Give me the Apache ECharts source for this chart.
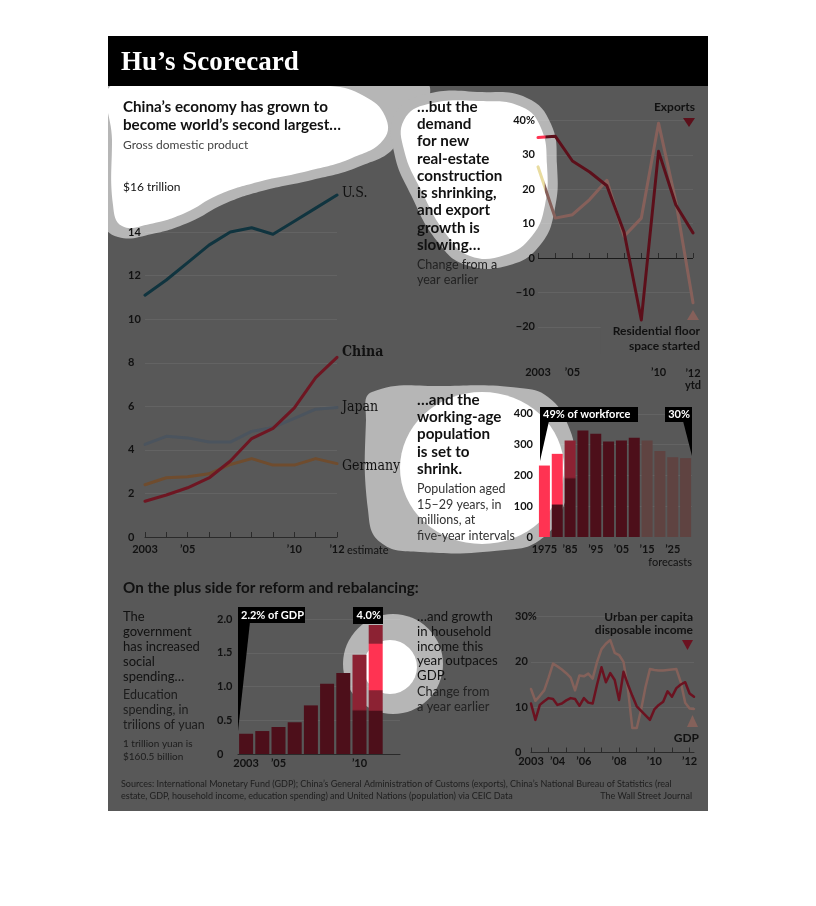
<!DOCTYPE html>
<html><head><meta charset="utf-8">
<script src="https://cdn.jsdelivr.net/npm/echarts@6/dist/echarts.min.js"></script>
<style>html,body{margin:0;padding:0;background:#fff}#c{width:816px;height:906px}</style>
</head><body><div id="c"></div>
<script>
// ---------------- DATA ----------------
const gdpYears = ['2003','2004','2005','2006','2007','2008','2009','2010','2011','2012'];
const gdpTickLabels = ['2003','','\u201905','','','','','\u201910','','\u201912'];
const gdpYLabels = ['0','2','4','6','8','10','12','14',''];
const gdpUS      = [11.1, 11.8, 12.6, 13.4, 14.0, 14.2, 13.9, 14.5, 15.1, 15.7];
const gdpChina   = [1.64, 1.93, 2.26, 2.71, 3.49, 4.52, 4.99, 5.93, 7.32, 8.25];
const gdpJapan   = [4.25, 4.62, 4.55, 4.36, 4.36, 4.85, 5.03, 5.45, 5.87, 5.95];
const gdpGermany = [2.40, 2.72, 2.77, 2.90, 3.33, 3.60, 3.30, 3.30, 3.60, 3.37];

const tradeYears = ['2003','2004','2005','2006','2007','2008','2009','2010','2011','2012'];
const tradeTickLabels = ['2003','','\u201905','','','','','\u201910','','\u201912'];
const tradeYLabels = ['','\u221220','\u221210','0','10','20','30','40%'];
const exportsGrowth     = [35.0, 35.4, 28.2, 25.0, 21.0, 7.5, -18.0, 31.0, 15.5, 7.3];
const residentialGrowth = [26.5, 11.6, 12.6, 17.0, 22.6, 6.3, 11.6, 39.2, 16.5, -13.0];

const popYears = ['1975','1980','1985','1990','1995','2000','2005','2010','2015','2020','2025','2030'];
const popTickLabels = ['1975','','\u201985','','\u201995','','\u201905','','\u201915','','\u201925',''];
const popYLabels = ['0','100','200','300','400'];
const popYouth = [232, 270, 313, 346, 335, 310, 313, 322, 313, 279, 259, 256];
const popFirstForecast = '2015';

const eduYears = ['2003','2004','2005','2006','2007','2008','2009','2010','2011'];
const eduTickLabels = ['2003','','\u201905','','','','','\u201910',''];
const eduYLabels = ['0','0.5','1.0','1.5','2.0'];
const eduSpending = [0.30, 0.34, 0.40, 0.47, 0.72, 1.04, 1.20, 1.47, 1.91];

const incomeYears = ['2003','2004','2005','2006','2007','2008','2009','2010','2011','2012'];
const incomeYearLabels = ['2003','\u201904','','\u201906','','\u201908','','\u201910','','\u201912'];
const incomeYLabels = ['0','10','20','30%'];
const urbanIncome = [10.8, 7.2, 10.5, 11.3, 12.0, 11.8, 10.5, 10.8, 11.5, 12.0, 11.8, 10.3, 12.0, 11.0, 10.8, 15.0, 18.8, 15.5, 17.5, 16.0, 11.6, 17.8, 15.0, 12.5, 10.2, 9.2, 8.2, 7.2, 9.5, 10.5, 11.2, 13.5, 12.3, 14.2, 15.0, 15.5, 13.0, 12.3];
const gdpQuarterly = [14.0, 11.4, 12.5, 13.7, 16.5, 19.6, 19.0, 18.3, 17.5, 16.5, 13.7, 17.0, 16.8, 17.4, 16.3, 20.0, 22.8, 24.0, 24.8, 22.0, 21.5, 20.0, 14.0, 5.4, 5.4, 9.5, 14.5, 18.4, 18.2, 18.1, 18.1, 18.2, 18.3, 18.4, 15.5, 11.0, 9.7, 9.6];
const incomeQuarters = [];
incomeYears.forEach(y => ['Q1','Q2','Q3','Q4'].forEach(q => { if (incomeQuarters.length < urbanIncome.length) incomeQuarters.push(y + ' ' + q); }));

// ---------------- STYLE ----------------
const PANEL = '#585858', LIGHT = '#b6b6b6', GRID = 'rgba(255,255,255,0.07)', INK = '#111';
const FONT = 'Lato';
const BRIGHT = '#ff3352', MID = '#8c2233', DARK = '#4d0f1a', FORE = '#5f4341';
const HEAD = 15.2;

function vgrad(stops){ return {type:'linear',x:0,y:0,x2:0,y2:1,colorStops:stops.map(s=>({offset:s[0],color:s[1]}))}; }
function hgrad(stops){ return {type:'linear',x:0,y:0,x2:1,y2:0,colorStops:stops.map(s=>({offset:s[0],color:s[1]}))}; }

function blob(pts, fill, z){ return {type:'polygon', z:z, silent:true, shape:{points:pts, smooth:0.45}, style:{fill:fill}}; }
function txt(x, y, text, o){
  o = o || {};
  const al = o.align || 'left', va = o.va || 'middle';
  const st = {text:text, fill:o.color||INK, fontFamily:o.family||FONT, fontSize:o.size||12, fontWeight:o.weight||'normal',
    align:al, textAlign:al, verticalAlign:va, textVerticalAlign:va};
  if (o.lh) st.lineHeight = o.lh;
  if (o.bg) { st.backgroundColor = o.bg; st.padding = o.pad; }
  return {type:'text', x:x, y:y, z:61, silent:true, style:st};
}
function tri(points, fill){ return {type:'polygon', z:60, silent:true, shape:{points:points}, style:{fill:fill}}; }
function box(x,y,w,h,fill,z){ return {type:'rect', z:z||60, silent:true, shape:{x:x,y:y,width:w,height:h}, style:{fill:fill||'#000'}}; }

const axisLbl = {fontFamily:FONT, fontWeight:'bold', fontSize:11, color:INK};

const grids = [
  {left:145, top:188.5, width:192, height:348.5},
  {left:538, top:120.4, width:155, height:240.8},
  {left:538, top:413.8, width:154, height:123.2},
  {left:238, top:619, width:162, height:135},
  {left:531, top:616.5, width:163, height:136}
];

function yAxis(gi, min, max, interval, labels, align, margin, lineColors){
  return {type:'value', gridIndex:gi, min:min, max:max, interval:interval,
    axisLine:{show:false}, axisTick:{show:false},
    axisLabel:Object.assign({}, axisLbl, {align:align, margin:margin,
      formatter: v => labels[Math.round((v-min)/interval)] || ''}),
    splitLine:{show:true, lineStyle:{color:lineColors, width:1}}};
}
function xCat(gi, data, labels, o){
  o = o || {};
  return Object.assign({type:'category', gridIndex:gi, data:data, boundaryGap:o.gap||false,
    axisLine:{show:o.line!==false, lineStyle:{color:'#2a2a2a', width:1}},
    axisTick:{show:o.tick!==false, inside:true, length:5, interval:o.tickInterval!==undefined?o.tickInterval:0, lineStyle:{color:'#2a2a2a'}},
    axisLabel:Object.assign({}, axisLbl, {interval:0, margin:o.margin||7,
      formatter:o.fmt || ((v,i) => labels[i] || ''), rich:o.rich}),
    splitLine:{show:false}}, o.extra||{});
}

const T = 'rgba(0,0,0,0)';
const popData = popYouth.map((v,i) => {
  let c = popYears[i] >= popFirstForecast ? FORE : DARK;
  if (i === 0) c = BRIGHT;
  if (i === 1) c = vgrad([[0,BRIGHT],[0.6,BRIGHT],[0.62,DARK],[1,DARK]]);
  if (i === 2) c = vgrad([[0,MID],[0.38,MID],[0.4,DARK],[1,DARK]]);
  return {value:v, itemStyle:{color:c}};
});
const eduData = eduSpending.map((v,i) => {
  let c = DARK;
  if (i === 7) c = vgrad([[0,MID],[0.55,MID],[0.57,DARK],[1,DARK]]);
  if (i === 8) c = vgrad([[0,MID],[0.14,MID],[0.15,BRIGHT],[0.5,BRIGHT],[0.51,MID],[0.66,MID],[0.67,DARK],[1,DARK]]);
  return {value:v, itemStyle:{color:c}};
});

function line(name, xi, data, color, width, z){
  return {name:name, type:'line', xAxisIndex:xi, yAxisIndex:xi, data:data, symbol:'none', smooth:false, z:z||2,
    lineStyle:{color:color, width:width||3, cap:'round', join:'round'}, silent:true};
}

const lblRich = {fontFamily:FONT, fontWeight:'bold', fontSize:11, color:INK};
const SERIF = 'DejaVu Serif Condensed, DejaVu Serif';

const graphics = [
  box(108, 86, 600, 725, PANEL, -100),
  // spotlight blobs (light rings)
  blob([[100,80],[340,80],[378,88],[398,112],[396,145],[358,167],[312,180],[262,191],[224,204],[190,222],[152,234],[118,237],[102,220],[100,150]], LIGHT, -90),
  blob([[355,82],[425,82],[428,104],[414,128],[396,132],[382,122],[368,100]], LIGHT, -90),
  blob([[395,114],[426,94],[482,92],[527,98],[551,124],[557,165],[555,208],[541,244],[510,265],[466,265],[437,241],[411,195],[394,152]], LIGHT, -90),
  blob([[372,392],[450,386],[520,388],[548,397],[568,425],[574,460],[562,510],[540,540],[505,550],[420,552],[380,542],[368,510],[366,420]], LIGHT, -90),
  {type:'circle', z:-90, silent:true, shape:{cx:393, cy:664, r:50}, style:{fill:LIGHT}},
  // white cores
  blob([[113,84],[200,84],[330,86],[364,96],[385,116],[384,139],[352,158],[308,171],[258,182],[218,195],[185,213],[150,224],[122,226],[113,205],[112,140]], '#fff', -80),
  blob([[404,120],[428,104],[480,101],[522,107],[541,128],[547,165],[545,205],[532,236],[505,255],[470,256],[446,234],[421,190],[404,150]], '#fff', -80),
  {type:'circle', z:-80, silent:true, x:482, y:468, scaleX:82/76, shape:{cx:0, cy:0, r:76}, style:{fill:'#fff'}},
  {type:'circle', z:-80, silent:true, shape:{cx:390, cy:667, r:27}, style:{fill:'#fff'}},
  // page margins outside the panel stay white
  box(0, 0, 108, 906, '#fff', 55), box(708, 0, 108, 906, '#fff', 55),
  box(0, 0, 816, 36, '#fff', 55), box(0, 811, 816, 95, '#fff', 55),
  // header
  box(108, 36, 600, 50, '#000', 56),
  txt(121, 63, 'Hu\u2019s Scorecard', {family:'Liberation Serif', size:27, weight:'bold', color:'#fff'}),
  // panel 1
  txt(123, 97.8, 'China\u2019s economy has grown to\nbecome world\u2019s second largest\u2026', {size:HEAD, weight:'bold', lh:18.5, va:'top'}),
  txt(123, 145, 'Gross domestic product', {size:12, color:'#444'}),
  txt(123, 187, '$16 trillion', {size:12}),
  txt(342, 193, 'U.S.', {family:SERIF, size:14}),
  txt(342, 352, 'China', {family:SERIF, size:14, weight:'bold'}),
  txt(342, 407, 'Japan', {family:SERIF, size:14}),
  txt(342, 466, 'Germany', {family:SERIF, size:14}),
  txt(347, 550, 'estimate', {size:11}),
  // panel 2
  txt(417, 98.4, '\u2026but the\ndemand\nfor new\nreal-estate\nconstruction\nis shrinking,\nand export\ngrowth is\nslowing\u2026', {size:HEAD, weight:'bold', lh:17.25, va:'top'}),
  txt(417, 257.5, 'Change from a\nyear earlier', {size:12.5, color:'#222', lh:15, va:'top'}),
  txt(695, 107, 'Exports', {size:12, weight:'bold', align:'right'}),
  tri([[683,118],[695,118],[689,127]], '#5c0f1a'),
  txt(700, 324, 'Residential floor\nspace started', {size:12, weight:'bold', align:'right', lh:15, va:'top', bg:PANEL, pad:[0,0,0,12]}),
  tri([[687,320],[699,320],[693,310]], '#86605a'),
  // panel 3
  txt(417, 391.4, '\u2026and the\nworking-age\npopulation\nis set to\nshrink.', {size:HEAD, weight:'bold', lh:17.25, va:'top'}),
  txt(417, 481.2, 'Population aged\n15\u201329 years, in\nmillions, at\nfive-year intervals', {size:12.5, color:'#333', lh:15.6, va:'top'}),
  txt(692, 562, 'forecasts', {size:11, align:'right'}),
  box(540, 407, 98, 15), tri([[540,421],[549,421],[540,461]], '#000'),
  txt(543, 414.5, '49% of workforce', {size:11, weight:'bold', color:'#fff'}),
  box(665, 407, 27, 15), tri([[683,421],[692,421],[692,456]], '#000'),
  txt(690, 414.5, '30%', {size:11, weight:'bold', color:'#fff', align:'right'}),
  // bottom section
  txt(123, 588, 'On the plus side for reform and rebalancing:', {size:HEAD, weight:'bold'}),
  txt(123, 609.5, 'The\ngovernment\nhas increased\nsocial\nspending\u2026', {size:13, lh:15, va:'top'}),
  txt(123, 687.5, 'Education\nspending, in\ntrilions of yuan', {size:12.5, color:'#1c1c1c', lh:15, va:'top'}),
  txt(123, 737.8, '1 trillion yuan is\n$160.5 billion', {size:10, color:'#1c1c1c', lh:12.5, va:'top'}),
  box(238, 607, 67, 16), tri([[238,622],[250,622],[238,731]], '#000'),
  txt(241, 615, '2.2% of GDP', {size:11, weight:'bold', color:'#fff'}),
  box(353, 607, 30, 17),
  txt(381, 615.5, '4.0%', {size:11, weight:'bold', color:'#fff', align:'right'}),
  txt(417, 609.6, '\u2026and growth\nin household\nincome this\nyear outpaces\nGDP.', {size:13.2, lh:14.75, va:'top'}),
  txt(417, 684.5, 'Change from\na year earlier', {size:12.8, color:'#222', lh:15, va:'top'}),
  txt(693, 610.3, 'Urban per capita\ndisposable income', {size:12, weight:'bold', align:'right', lh:13.5, va:'top'}),
  tri([[682,640],[693,640],[687.5,650]], '#6b1220'),
  tri([[687,727],[698,727],[692.5,715]], '#84615a'),
  txt(699, 738, 'GDP', {size:12, weight:'bold', align:'right'}),
  txt(121, 778, 'Sources: International Monetary Fund (GDP); China\u2019s General Administration of Customs (exports), China\u2019s National Bureau of Statistics (real\nestate, GDP, household income, education spending) and United Nations (population) via CEIC Data', {size:9, color:'#1e1e1e', lh:12, va:'top'}),
  txt(692, 796, 'The Wall Street Journal', {size:9, color:'#1e1e1e', align:'right'})
];

const option = {
  animation:false,
  backgroundColor:'#fff',
  grid: grids.map(g => Object.assign({containLabel:false}, g)),
  xAxis: [
    xCat(0, gdpYears, gdpTickLabels, {margin:7}),
    xCat(1, tradeYears, tradeTickLabels, {line:false, margin:6,
      fmt:(v,i) => i === 9 ? '{a|\u201912}\n{a|ytd}' : (tradeTickLabels[i] || ''),
      rich:{a:Object.assign({lineHeight:12}, lblRich)}}),
    xCat(2, popYears, popTickLabels, {gap:true, line:false, tick:false, margin:7}),
    xCat(3, eduYears, eduTickLabels, {gap:true, tick:false, margin:4, extra:{max:9}}),
    xCat(4, incomeQuarters, [], {margin:3, tickInterval:(i) => i % 4 === 0,
      fmt:(v,i) => i === 4 ? '{p|' + incomeYearLabels[1] + '}' : (i % 4 === 0 ? (incomeYearLabels[i/4] || '') : ''),
      rich:{p:Object.assign({padding:[0,0,0,18]}, lblRich)}})
  ],
  yAxis: [
    yAxis(0, 0, 16, 2, gdpYLabels, 'left', 17, [T,GRID,GRID,GRID,GRID,GRID,GRID,GRID,T]),
    yAxis(1, -30, 40, 10, tradeYLabels, 'right', 3, [T,GRID,GRID,'#1a1a1a',GRID,GRID,GRID,GRID]),
    yAxis(2, 0, 400, 100, popYLabels, 'right', 5, [T,GRID,GRID,GRID,GRID]),
    yAxis(3, 0, 2, 0.5, eduYLabels, 'left', 21, [T,GRID,GRID,GRID,GRID]),
    yAxis(4, 0, 30, 10, incomeYLabels, 'left', 16, [T,GRID,GRID,GRID])
  ],
  series: [
    line('U.S.', 0, gdpUS, '#10343f', 3),
    line('Japan', 0, gdpJapan, '#4b545e', 3),
    line('Germany', 0, gdpGermany, '#6f4c2e', 3),
    line('China', 0, gdpChina, '#6e1622', 3, 3),
    line('Residential floor space started', 1, residentialGrowth, hgrad([[0,'#e9dca0'],[0.055,'#e9dca0'],[0.06,'#86605a'],[1,'#86605a']]), 3),
    line('Exports', 1, exportsGrowth, hgrad([[0,BRIGHT],[0.06,BRIGHT],[0.065,'#5c0f1a'],[1,'#5c0f1a']]), 3, 3),
    {name:'Population 15-29', type:'bar', xAxisIndex:2, yAxisIndex:2, data:popData, barWidth:11, silent:true},
    {name:'Education spending', type:'bar', xAxisIndex:3, yAxisIndex:3, data:eduData, barWidth:14, silent:true},
    line('GDP', 4, gdpQuarterly, '#84615a', 2.5),
    line('Urban per capita disposable income', 4, urbanIncome, '#6b1220', 2.5, 3)
  ],
  graphic: {elements: graphics}
};

const chart = echarts.init(document.getElementById('c'), null, {renderer:'canvas', width:816, height:906});
chart.setOption(option);
</script>
</body></html>
